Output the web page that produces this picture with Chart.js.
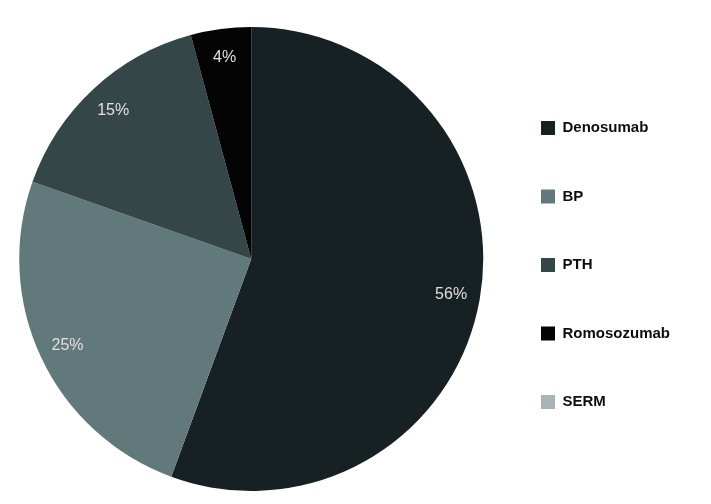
<!DOCTYPE html>
<html>
<head>
<meta charset="utf-8">
<script src="https://cdn.jsdelivr.net/npm/chart.js@4/dist/chart.umd.min.js"></script>
<style>
  html, body { margin: 0; padding: 0; background: #ffffff; }
  #wrap { width: 711px; height: 504px; }
</style>
</head>
<body>
<div id="wrap"><canvas id="c" width="711" height="504"></canvas></div>
<script>
const categories = ['Denosumab', 'BP', 'PTH', 'Romosozumab', 'SERM'];
const shares = [55.6, 24.8, 15.4, 4.2, 0];
const sliceLabels = ['56%', '25%', '15%', '4%', ''];
const sliceColors = ['#172123', '#62797c', '#354649', '#040404', '#a7b5b7'];

const sliceLabelPlugin = {
  id: 'sliceLabels',
  afterDatasetsDraw(chart) {
    const ctx = chart.ctx;
    const meta = chart.getDatasetMeta(0);
    ctx.save();
    ctx.font = '16px "Liberation Sans", Arial, sans-serif';
    ctx.fillStyle = '#e2dede';
    ctx.textAlign = 'center';
    ctx.textBaseline = 'middle';
    meta.data.forEach((arc, i) => {
      const txt = sliceLabels[i];
      if (!txt) return;
      const p = arc.getProps(['x', 'y', 'startAngle', 'endAngle', 'outerRadius'], true);
      const mid = (p.startAngle + p.endAngle) / 2;
      const r = p.outerRadius * 0.875;
      ctx.fillText(txt, p.x + Math.cos(mid) * r, p.y + Math.sin(mid) * r);
    });
    ctx.restore();
  }
};

new Chart(document.getElementById('c'), {
  type: 'pie',
  data: {
    labels: categories,
    datasets: [{
      data: shares,
      backgroundColor: sliceColors,
      borderWidth: 0,
      hoverOffset: 0
    }]
  },
  options: {
    responsive: false,
    animation: false,
    layout: { padding: { left: 15, top: 27, bottom: 13, right: 31 } },
    plugins: {
      tooltip: { enabled: false },
      legend: {
        position: 'right',
        align: 'center',
        title: { display: true, text: ' ', font: { size: 12, lineHeight: 1 }, padding: 0 },
        labels: {
          boxWidth: 14,
          boxHeight: 14,
          padding: 53.5,
          color: '#0d0d0d',
          font: { family: '"Liberation Sans", Arial, sans-serif', size: 15, weight: 'bold' }
        }
      }
    }
  },
  plugins: [sliceLabelPlugin]
});
</script>
</body>
</html>
